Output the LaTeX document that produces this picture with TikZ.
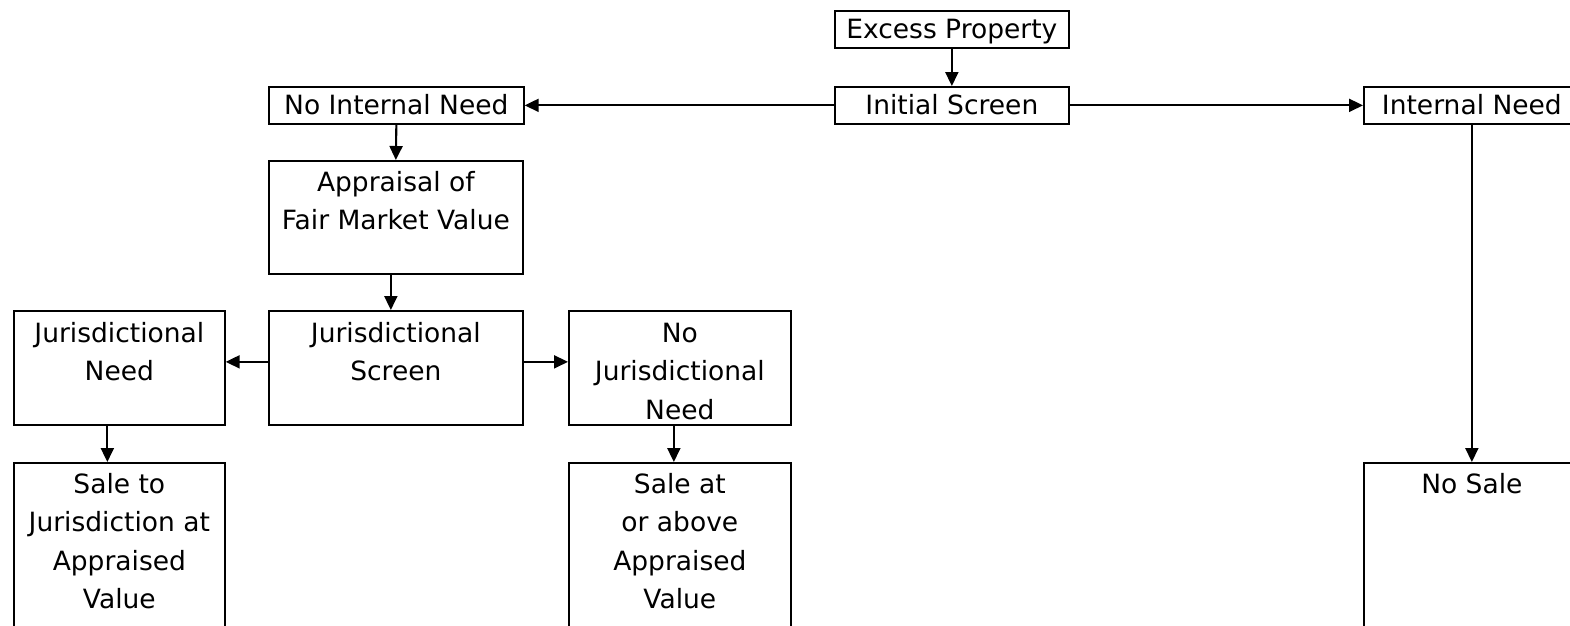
\documentclass[tikz,border=0pt]{standalone}
\usepackage{fontspec}
\setmainfont{DejaVu Sans}
\usetikzlibrary{arrows.meta}
\newcommand{\mystrut}{\rule{0pt}{21pt}}
\begin{document}
\begin{tikzpicture}[x=1pt,y=-1pt,
  box/.style={draw, line width=1.7pt, rectangle, inner sep=0pt, anchor=north west},
  onel/.style={box, font=\fontsize{26.5}{38.5}\selectfont, text height=19pt, text depth=0pt},
  txt/.style={font=\fontsize{26.5}{38.5}\selectfont, align=center, inner sep=0pt, anchor=north},
  arr/.style={line width=2.1pt, -{Triangle[length=14pt,width=13pt]}}
]
\path[use as bounding box] (0,0) rectangle (1570,625);
\clip (0,0) rectangle (1570,625);
\fill[white] (0,0) rectangle (1570,625);

% single-line boxes
\node[onel, minimum width=234pt, minimum height=37pt] (ep) at (834,10) {Excess Property};
\node[onel, minimum width=234pt, minimum height=37pt] (is) at (834,86) {Initial Screen};
\node[onel, minimum width=255pt, minimum height=37pt] (nin) at (268,86) {No Internal Need};
\node[onel, minimum width=216pt, minimum height=37pt] (in) at (1363,86) {Internal Need};

% multi-line boxes
\node[box, minimum width=254pt, minimum height=113pt] (ap) at (268,160) {};
\node[box, minimum width=254pt, minimum height=114pt] (js) at (268,310) {};
\node[box, minimum width=211pt, minimum height=114pt] (jn) at (13,310) {};
\node[box, minimum width=222pt, minimum height=114pt] (njn) at (568,310) {};
\node[box, minimum width=211pt, minimum height=200pt] (s1) at (13,462) {};
\node[box, minimum width=222pt, minimum height=200pt] (s2) at (568,462) {};
\node[box, minimum width=216pt, minimum height=200pt] (ns) at (1363,462) {};

\node[txt] (apt) at ([yshift=-10pt]ap.north) {\mystrut Appraisal of\\Fair Market Value};
\node[txt] (jst) at ([yshift=-11pt]js.north) {\mystrut Jurisdictional\\Screen};
\node[txt] (jnt) at ([yshift=-11pt]jn.north) {\mystrut Jurisdictional\\Need};
\node[txt] (njnt) at ([yshift=-11pt]njn.north) {\mystrut No\\Jurisdictional\\Need};
\node[txt] (s1t) at ([yshift=-10pt]s1.north) {\mystrut Sale to\\Jurisdiction at\\Appraised\\Value};
\node[txt] (s2t) at ([yshift=-10pt]s2.north) {\mystrut Sale at\\or above\\Appraised\\Value};
\node[txt] (nst) at ([yshift=-10pt]ns.north) {\mystrut No Sale};

% connectors
\draw[arr] (ep.south) -- (is.north);
\draw[arr] (is.west) -- (nin.east);
\draw[arr] (is.east) -- (in.west);
\draw[arr] (in.south) -- (ns.north);
\draw[arr] (nin.south) -- (ap.north);
\draw[arr] ([xshift=-5pt]ap.south) -- ([xshift=-5pt]js.north);
\draw[arr] ([yshift=6pt]js.west) -- ([yshift=6pt]jn.east);
\draw[arr] ([yshift=6pt]js.east) -- ([yshift=6pt]njn.west);
\draw[arr] ([xshift=-12pt]jn.south) -- ([xshift=-12pt]s1.north);
\draw[arr] ([xshift=-6pt]njn.south) -- ([xshift=-6pt]s2.north);
\end{tikzpicture}
\end{document}
